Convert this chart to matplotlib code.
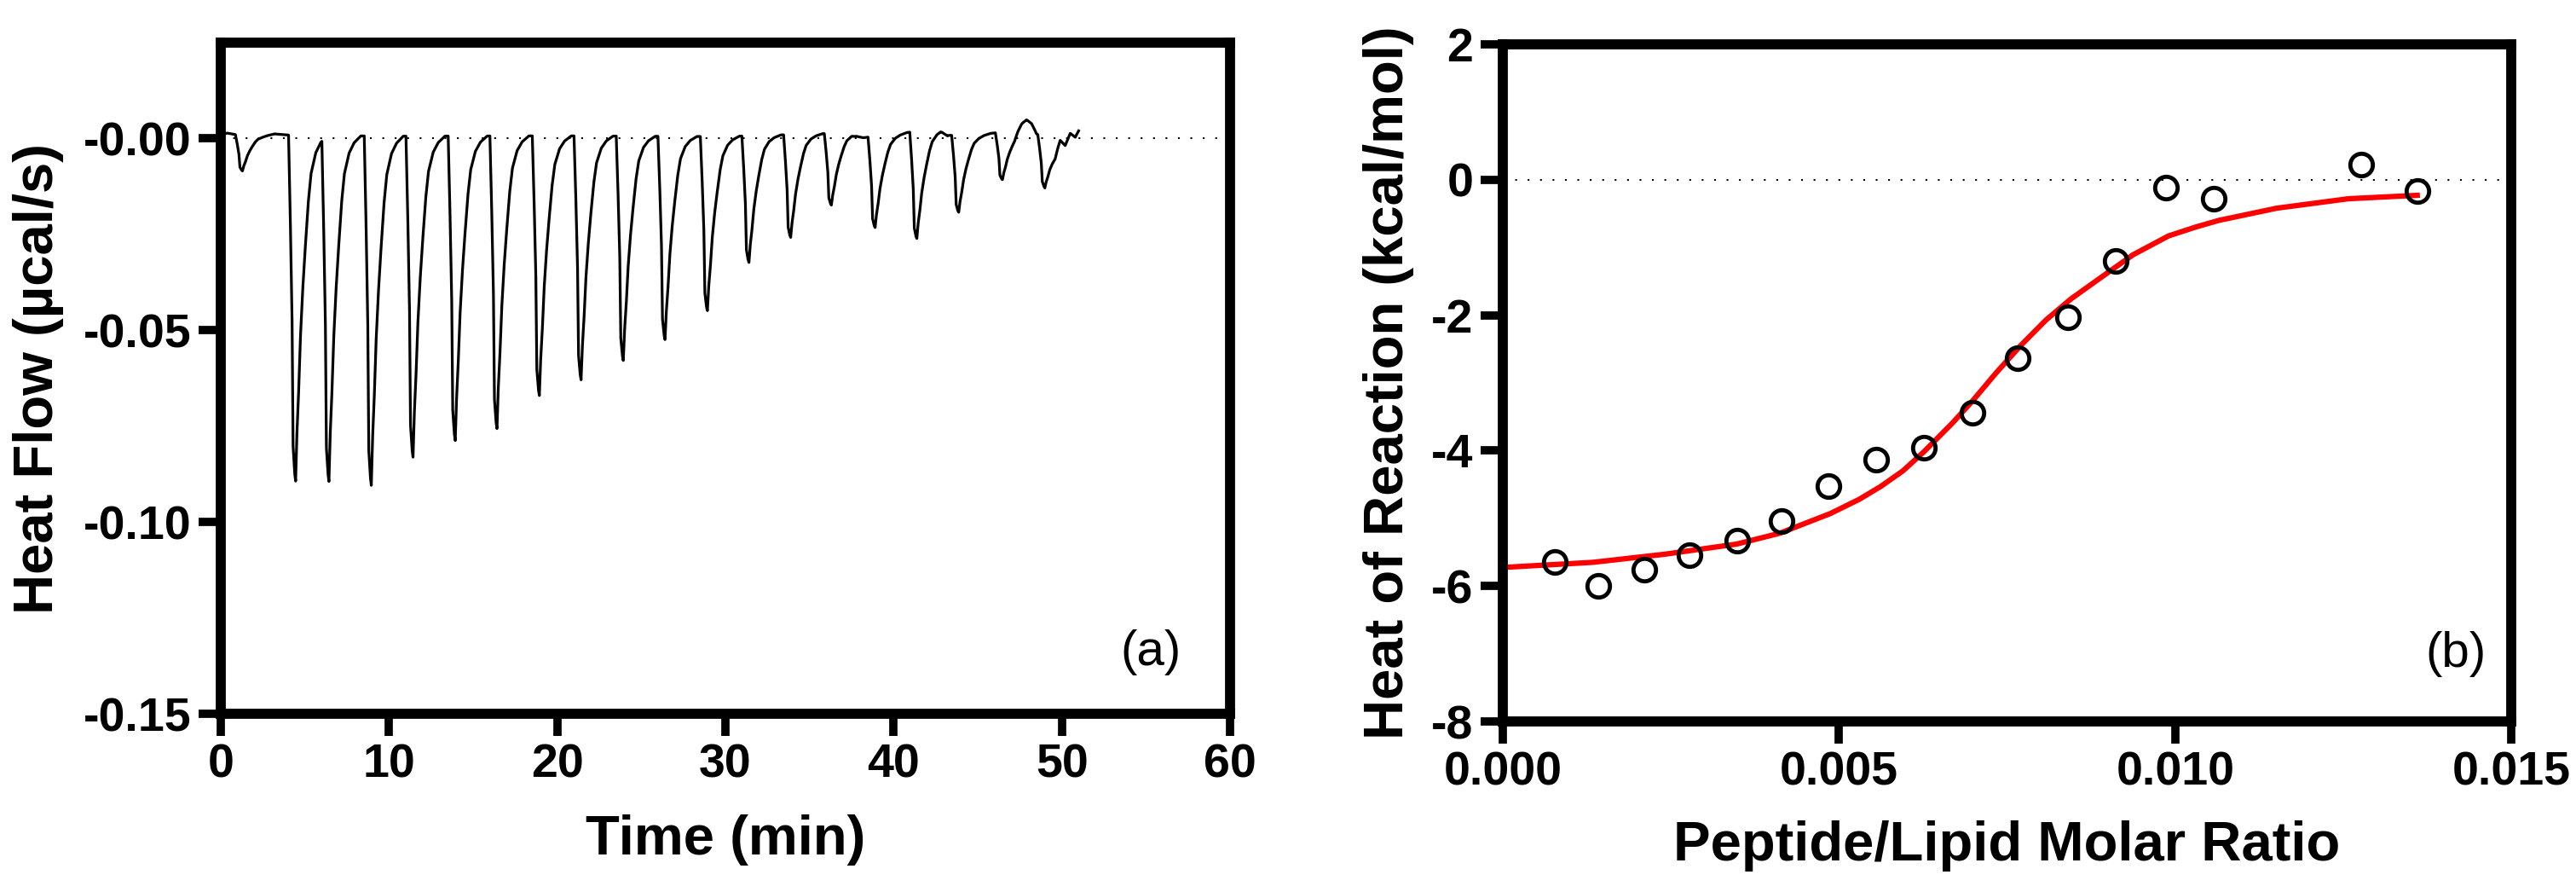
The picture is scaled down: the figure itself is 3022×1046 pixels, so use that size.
import numpy as np
import matplotlib
matplotlib.use("Agg")
import matplotlib.pyplot as plt

plt.rcParams['font.family'] = ['Liberation Sans', 'DejaVu Sans']
plt.rcParams['axes.unicode_minus'] = False

# ---- panel (a): raw ITC thermogram ----
# injection peaks: time of minimum (min) and depth (ucal/s)
peak_times = [1.29, 4.45, 6.43, 8.95, 11.43, 13.94, 16.42, 18.94, 21.42, 23.93,
              26.41, 28.93, 31.40, 33.88, 36.30, 38.90, 41.38, 43.87, 46.47, 48.99]
peak_depths = [0.0094, 0.0902, 0.0902, 0.0911, 0.0837, 0.0794, 0.0763, 0.0677, 0.0636, 0.0585,
               0.0530, 0.0454, 0.0330, 0.0268, 0.0187, 0.0238, 0.0279, 0.0201, 0.0124, 0.0129]
# shape of one peak (time from minimum, fraction of depth)
shape_dt = [-0.42, -0.31, -0.21, -0.15, -0.05, 0.0, 0.08, 0.18, 0.29, 0.43, 0.58, 0.76, 0.92, 1.2, 1.5, 1.9]
shape_frac = [0.0, 0.26, 0.54, 0.90, 0.98, 1.0, 0.86, 0.74, 0.58, 0.44, 0.32, 0.19, 0.11, 0.05, 0.02, 0.0]
# baseline readings between the peaks
base_t = [0.0, 0.4, 0.9, 2.5, 3.2, 4.0, 10.0, 20.0, 30.0, 37.5, 38.2, 40.0, 42.8, 43.2,
          45.0, 47.2, 47.6, 47.9, 48.2, 48.5, 49.6, 49.9, 50.2, 50.5, 50.8, 51.0]
base_v = [0.0012, 0.0014, 0.0010, 0.0008, 0.0012, 0.0009, 0.0006, 0.0007, 0.0005, 0.0015, 0.0002, 0.0012, 0.0025, 0.0008,
          0.0010, 0.0020, 0.0045, 0.0052, 0.0040, 0.0012, -0.0015, 0.0010, -0.0012, 0.0016, 0.0004, 0.0020]

# ---- panel (b): integrated heats and fit ----
ratio = [0.00077, 0.00142, 0.00211, 0.00278, 0.00348, 0.00415, 0.00484, 0.00555, 0.00626,
         0.00698, 0.00766, 0.00840, 0.00911, 0.00986, 0.01057, 0.01277, 0.01360]
heat = [-5.64, -6.00, -5.76, -5.54, -5.33, -5.04, -4.53, -4.13, -3.96,
        -3.44, -2.64, -2.03, -1.20, -0.12, -0.28, 0.23, -0.17]
fit_x = [0.0001, 0.00134, 0.00241, 0.00348, 0.00412, 0.00487, 0.00530, 0.00562, 0.00595, 0.00626,
         0.00669, 0.00700, 0.00733, 0.00770, 0.00808, 0.00845, 0.00883, 0.00937, 0.00990,
         0.01030, 0.01065, 0.01151, 0.01258, 0.01360]
fit_y = [-5.72, -5.65, -5.53, -5.38, -5.22, -4.93, -4.72, -4.53, -4.30, -4.02,
         -3.59, -3.25, -2.86, -2.45, -2.07, -1.76, -1.49, -1.11, -0.83,
         -0.70, -0.60, -0.42, -0.28, -0.23]

# build thermogram vertices
tt = set(base_t)
for t0 in peak_times:
    for dt in shape_dt:
        tt.add(round(t0 + dt, 4))
tt = np.array(sorted(tt))
tt = tt[(tt >= 0) & (tt <= 51.0)]
flow = np.interp(tt, base_t, base_v)
for t0, d in zip(peak_times, peak_depths):
    flow = flow - d * np.interp(tt - t0, shape_dt, shape_frac, left=0, right=0)

fig = plt.figure(figsize=(30.22, 10.46), dpi=100)
ax1 = fig.add_axes([0.0857, 0.1998, 0.3918, 0.7524])
ax2 = fig.add_axes([0.5834, 0.1912, 0.3915, 0.7591])

tick_font = {'size': 40, 'weight': 'bold'}
label_font = {'size': 47, 'weight': 'bold'}

def style(ax):
    for s in ax.spines.values():
        s.set_linewidth(8.5)
    ax.tick_params(direction='out', length=19, width=7, pad=6,
                   top=False, right=False)
    for lab in ax.get_xticklabels() + ax.get_yticklabels():
        lab.set_fontsize(tick_font['size'])
        lab.set_fontweight(tick_font['weight'])

# (a)
ax1.axhline(0, color='black', lw=1.5, ls=(0, (1, 6)), zorder=1)
ax1.plot(tt, flow, color='black', lw=2.3, zorder=2)
ax1.set_xlim(0, 60)
ax1.set_ylim(-0.15, 0.025)
ax1.set_xticks([0, 10, 20, 30, 40, 50, 60])
ax1.set_xticklabels(['0', '10', '20', '30', '40', '50', '60'])
ax1.set_yticks([0.0, -0.05, -0.10, -0.15])
ax1.set_yticklabels(['-0.00', '-0.05', '-0.10', '-0.15'])
style(ax1)
ax1.set_xlabel('Time (min)', **label_font)
ax1.set_ylabel('Heat Flow (\u00b5cal/s)', **label_font)
ax1.xaxis.set_label_coords(0.5, -0.15)
ax1.yaxis.set_label_coords(-0.155, 0.5)
ax1.text(57.1, -0.134, '(a)', fontsize=42, ha='right', va='center')

# (b)
ax2.axhline(0, color='black', lw=1.5, ls=(0, (1, 6)), zorder=1)
ax2.plot(fit_x, fit_y, color='#ff0000', lw=4.5, zorder=2)
ax2.plot(ratio, heat, ls='none', marker='o', ms=19, mfc='none', mec='black', mew=3.5, zorder=3)
ax2.set_xlim(0, 0.015)
ax2.set_ylim(-8, 2)
ax2.set_xticks([0, 0.005, 0.010, 0.015])
ax2.set_xticklabels(['0.000', '0.005', '0.010', '0.015'])
ax2.set_yticks([2, 0, -2, -4, -6, -8])
ax2.set_yticklabels(['2', '0', '-2', '-4', '-6', '-8'])
style(ax2)
ax2.set_xlabel('Peptide/Lipid Molar Ratio', **label_font)
ax2.set_ylabel('Heat of Reaction (kcal/mol)', **label_font)
ax2.xaxis.set_label_coords(0.5, -0.146)
ax2.yaxis.set_label_coords(-0.088, 0.5)
ax2.text(0.01463, -7.0, '(b)', fontsize=42, ha='right', va='center')

fig.savefig('out.png', dpi=100)
